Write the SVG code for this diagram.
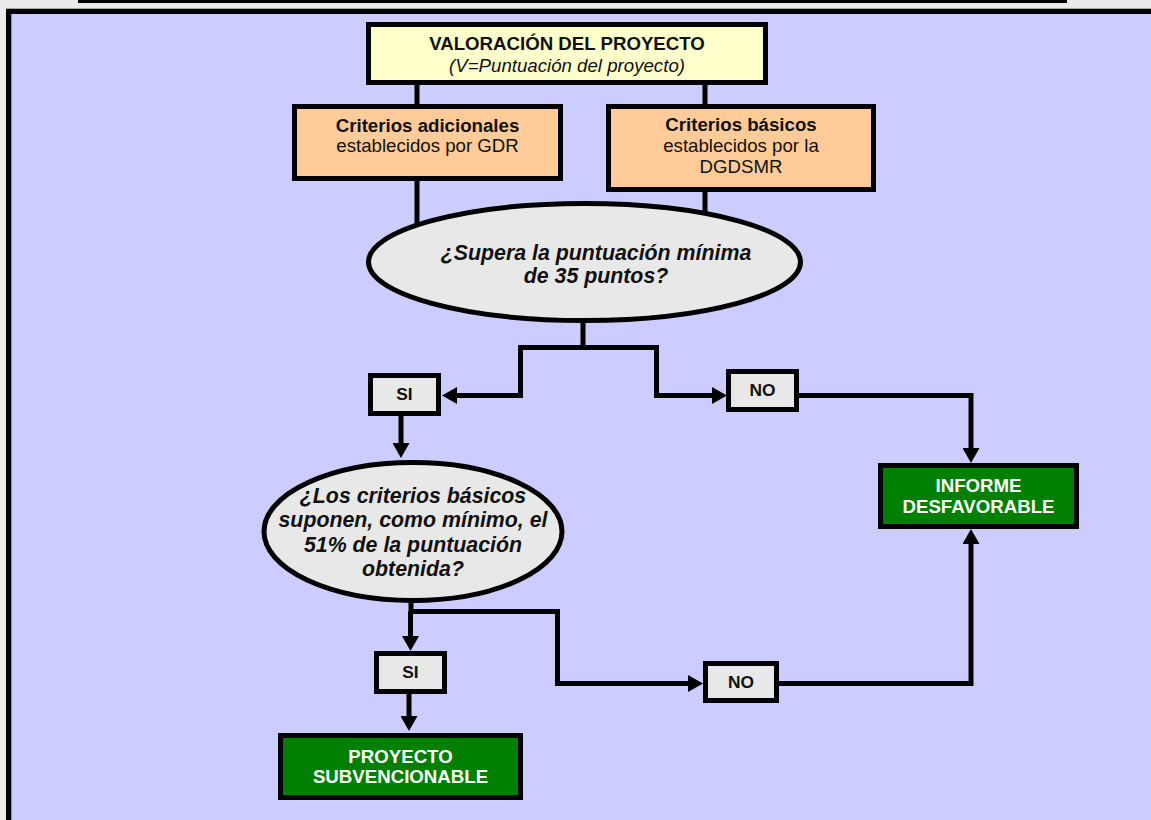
<svg xmlns="http://www.w3.org/2000/svg" width="1151" height="820" viewBox="0 0 1151 820">
<style>
.t{font-family:"Liberation Sans",Arial,sans-serif;fill:#111;text-anchor:middle}
.b{font-weight:bold}
.i{font-style:italic}
.s14{font-size:18.67px}
.s16{font-size:21.33px}
.s13{font-size:17.33px}
.w{fill:#fff}
.box{stroke:#000;stroke-width:5}
.grey{fill:#e8e8e8}
.green{fill:#007f00}
.con{fill:none;stroke:#000;stroke-width:5}
</style>
<defs>
<marker id="ah" markerUnits="userSpaceOnUse" markerWidth="15" markerHeight="17" viewBox="0 0 15 17" refX="2" refY="8.5" orient="auto">
<path d="M0,0 L15,8.5 L0,17 z" fill="#000"/>
</marker>
</defs>
<rect x="0" y="0" width="1151" height="820" fill="#ebebeb"/>
<rect x="78" y="0" width="989" height="3" fill="#000"/>
<rect x="6" y="8" width="1145" height="1" fill="#a8a8a8"/>
<rect x="6" y="9" width="1145" height="811" fill="#000"/>
<rect x="11" y="14" width="1140" height="806" fill="#ccccff"/>
<rect x="11" y="14" width="1" height="806" fill="#8c8cb4"/>

<g id="connectors">
<path class="con" d="M417,85 V104"/>
<path class="con" d="M705,85 V104"/>
<path class="con" d="M417,181 V235"/>
<path class="con" d="M705,192 V225"/>
<path class="con" d="M583,318 V347.5 H520.5 V395.5 H455" marker-end="url(#ah)"/>
<path class="con" d="M583,347.5 H656.5 V395.5 H714" marker-end="url(#ah)"/>
<path class="con" d="M401,416 V445" marker-end="url(#ah)"/>
<path class="con" d="M799,395.5 H971 V450" marker-end="url(#ah)"/>
<path class="con" d="M411,598 V611.5 H557.5 V683.5 H690" marker-end="url(#ah)"/>
<path class="con" d="M410.5,611.5 V638" marker-end="url(#ah)"/>
<path class="con" d="M409,694 V718" marker-end="url(#ah)"/>
<path class="con" d="M779,683.5 H971 V542" marker-end="url(#ah)"/>
</g>

<g id="valoracion">
<rect class="box" x="368.5" y="24.5" width="397" height="58" fill="#ffffcc"/>
<text class="t b s14" x="567" y="50">VALORACIÓN DEL PROYECTO</text>
<text class="t i s14" x="567" y="72">(V=Puntuación del proyecto)</text>
</g>

<g id="criterios-adicionales">
<rect class="box" x="294.5" y="106.5" width="266" height="72" fill="#ffcc99"/>
<text class="t b s14" x="427.5" y="132">Criterios adicionales</text>
<text class="t s14" x="427.5" y="152">establecidos por GDR</text>
</g>

<g id="criterios-basicos">
<rect class="box" x="608.5" y="106.5" width="265" height="83" fill="#ffcc99"/>
<text class="t b s14" x="741" y="131">Criterios básicos</text>
<text class="t s14" x="741" y="152">establecidos por la</text>
<text class="t s14" x="741" y="173">DGDSMR</text>
</g>

<g id="decision-puntuacion">
<ellipse class="box grey" cx="584.5" cy="262" rx="216" ry="58.5"/>
<text class="t b i s16" x="596" y="260">¿Supera la puntuación mínima</text>
<text class="t b i s16" x="596" y="283">de 35 puntos?</text>
</g>

<g id="si-1">
<rect class="box grey" x="370.5" y="375.5" width="68" height="38"/>
<text class="t b s13" x="404.5" y="400">SI</text>
</g>

<g id="no-1">
<rect class="box grey" x="728.5" y="371.5" width="68" height="38"/>
<text class="t b s13" x="762.5" y="396">NO</text>
</g>

<g id="decision-criterios">
<ellipse class="box grey" cx="413" cy="531.5" rx="149" ry="69"/>
<text class="t b i s16" x="413" y="503">¿Los criterios básicos</text>
<text class="t b i s16" x="413" y="527">suponen, como mínimo, el</text>
<text class="t b i s16" x="413" y="552">51% de la puntuación</text>
<text class="t b i s16" x="413" y="576">obtenida?</text>
</g>

<g id="informe-desfavorable">
<rect class="box green" x="880.5" y="465.5" width="196" height="61"/>
<text class="t b s14 w" x="978.5" y="492">INFORME</text>
<text class="t b s14 w" x="978.5" y="513">DESFAVORABLE</text>
</g>

<g id="si-2">
<rect class="box grey" x="376.5" y="653.5" width="68" height="38"/>
<text class="t b s13" x="410.5" y="678">SI</text>
</g>

<g id="no-2">
<rect class="box grey" x="705.5" y="663.5" width="71" height="37"/>
<text class="t b s13" x="741" y="688">NO</text>
</g>

<g id="proyecto-subvencionable">
<rect class="box green" x="280.5" y="735.5" width="240" height="62"/>
<text class="t b s14 w" x="400.5" y="783">SUBVENCIONABLE</text>
<text class="t b s14 w" x="400.5" y="763">PROYECTO</text>
</g>
</svg>
